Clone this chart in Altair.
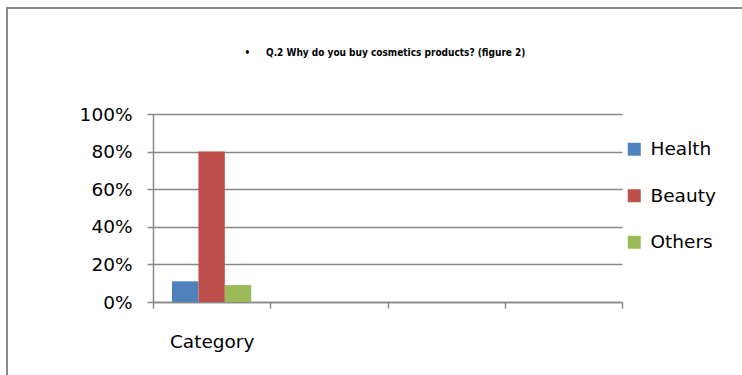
import altair as alt
import pandas as pd

categories = ["Category", "Category 2", "Category 3", "Category 4"]
series = ["Health", "Beauty", "Others"]
values = [0.11, 0.80, 0.09]
colors = ["#4F81BD", "#C0504D", "#9BBB59"]
y_ticks = [0, 0.2, 0.4, 0.6, 0.8, 1.0]
title_text = "\u2022\u00a0\u00a0\u00a0\u00a0\u00a0Q.2 Why do you buy cosmetics products? (figure 2)"

df = pd.DataFrame({"cat": [categories[0]] * 3, "series": series, "value": values})
title_df = pd.DataFrame({"t": [title_text]})

W, H = 469, 188
LEFT, TOP = 153, 114
GREY = "#888888"
FONT = "DejaVu Sans"
FS = 18.5

bars = alt.Chart(df).mark_bar().encode(
    x=alt.X("cat:N", scale=alt.Scale(domain=categories, paddingInner=0, paddingOuter=0),
            axis=alt.Axis(title=None, labelExpr="datum.value == 'Category' ? 'Category' : ''",
                          tickBand="extent", labelAngle=0, labelPadding=24, tickSize=6,
                          domainColor=GREY, tickColor=GREY, domainWidth=1.5, tickWidth=1.5,
                          labelFont=FONT, labelFontSize=FS, labelColor="#000000", grid=False)),
    xOffset=alt.XOffset("series:N", scale=alt.Scale(domain=series, paddingInner=0, paddingOuter=0.72)),
    y=alt.Y("value:Q", scale=alt.Scale(domain=[0, 1], nice=False),
            axis=alt.Axis(title=None, format=".0%", values=y_ticks, tickSize=6, labelPadding=15,
                          domainColor=GREY, tickColor=GREY, domainWidth=1.5, tickWidth=1.5,
                          gridColor=GREY, gridWidth=1.5,
                          labelFont=FONT, labelFontSize=FS, labelColor="#000000")),
    color=alt.Color("series:N", scale=alt.Scale(domain=series, range=colors),
                    legend=alt.Legend(title=None, orient="none", legendX=472, legendY=26,
                                      padding=0,
                                      symbolType="square", symbolSize=169, symbolStrokeWidth=0,
                                      rowPadding=27.5, labelFont=FONT, labelFontSize=FS,
                                      labelColor="#000000", labelOffset=7)),
)

frame = alt.Chart(df).mark_rect(fill=None, stroke=GREY, strokeWidth=1.5).encode(
    x=alt.value(7 - LEFT), x2=alt.value(760 - LEFT),
    y=alt.value(8 - TOP), y2=alt.value(400 - TOP),
)

title = alt.Chart(title_df).mark_text(
    font="'Liberation Sans Narrow', 'DejaVu Sans Condensed', 'Liberation Sans', sans-serif",
    fontWeight="bold", fontSize=10, color="#000000",
    align="center", baseline="middle",
).encode(text="t:N", x=alt.value(385 - LEFT), y=alt.value(53 - TOP))

chart = alt.layer(frame, bars, title).properties(
    width=W, height=H,
    autosize=alt.AutoSizeParams(type="none"),
    padding={"left": LEFT, "top": TOP, "right": 742 - LEFT - W, "bottom": 375 - TOP - H},
    background="white",
).configure_view(stroke=None)

chart.save("out.html", embed_options={"renderer": "svg", "actions": False})
